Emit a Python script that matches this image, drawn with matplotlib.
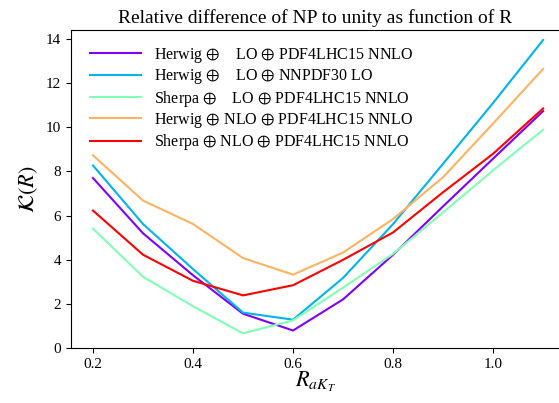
import numpy as np
import matplotlib.pyplot as plt
from matplotlib import cm

plt.rcParams['font.family'] = ['Liberation Serif', 'DejaVu Serif']
plt.rcParams['mathtext.fontset'] = 'stix'

R = [0.2, 0.3, 0.4, 0.5, 0.6, 0.7, 0.8, 0.9, 1.0, 1.1]

herwig_lo_pdf4lhc = [7.70, 5.20, 3.30, 1.56, 0.80, 2.21, 4.23, 6.42, 8.58, 10.73]
herwig_lo_nnpdf = [8.27, 5.62, 3.58, 1.61, 1.29, 3.18, 5.62, 8.35, 11.1, 13.95]
sherpa_lo_pdf4lhc = [5.41, 3.23, 1.90, 0.67, 1.26, 2.74, 4.27, 6.15, 8.05, 9.89]
herwig_nlo_pdf4lhc = [8.73, 6.68, 5.62, 4.08, 3.33, 4.33, 5.85, 7.74, 10.17, 12.64]
sherpa_nlo_pdf4lhc = [6.23, 4.23, 3.05, 2.39, 2.85, 4.00, 5.24, 7.06, 8.80, 10.85]

labels = [
    r'Herwig $\oplus$    LO $\oplus$ PDF4LHC15 NNLO',
    r'Herwig $\oplus$    LO $\oplus$ NNPDF30 LO',
    r'Sherpa $\oplus$    LO $\oplus$ PDF4LHC15 NNLO',
    r'Herwig $\oplus$ NLO $\oplus$ PDF4LHC15 NNLO',
    r'Sherpa $\oplus$ NLO $\oplus$ PDF4LHC15 NNLO',
]
series = [herwig_lo_pdf4lhc, herwig_lo_nnpdf, sherpa_lo_pdf4lhc,
          herwig_nlo_pdf4lhc, sherpa_nlo_pdf4lhc]
colors = cm.rainbow(np.linspace(0, 1, len(series)))

fig = plt.figure(figsize=(5.59, 4.03), dpi=100)
ax = fig.add_axes([0.127, 0.136, 0.875, 0.790])

for y, lab, c in zip(series, labels, colors):
    ax.plot(R, y, color=c, lw=1.5, label=lab)

ax.set_xlim(0.156, 1.134)
ax.set_ylim(0, 14.41)
ax.set_xticks([0.2, 0.4, 0.6, 0.8, 1.0])
ax.set_yticks([0, 2, 4, 6, 8, 10, 12, 14])
ax.tick_params(labelsize=11)
ax.set_title('Relative difference of NP to unity as function of R', fontsize=14, pad=5)
ax.set_xlabel(r'$R_{aK_T}$', fontsize=16, labelpad=-1)
ax.set_ylabel(r'$\mathcal{K}(R)$', fontsize=16)
ax.legend(loc='upper left', frameon=False, fontsize=11.5, handlelength=3.2,
          bbox_to_anchor=(0.01, 0.995), labelspacing=0.15)

fig.savefig('out.png', dpi=100)
